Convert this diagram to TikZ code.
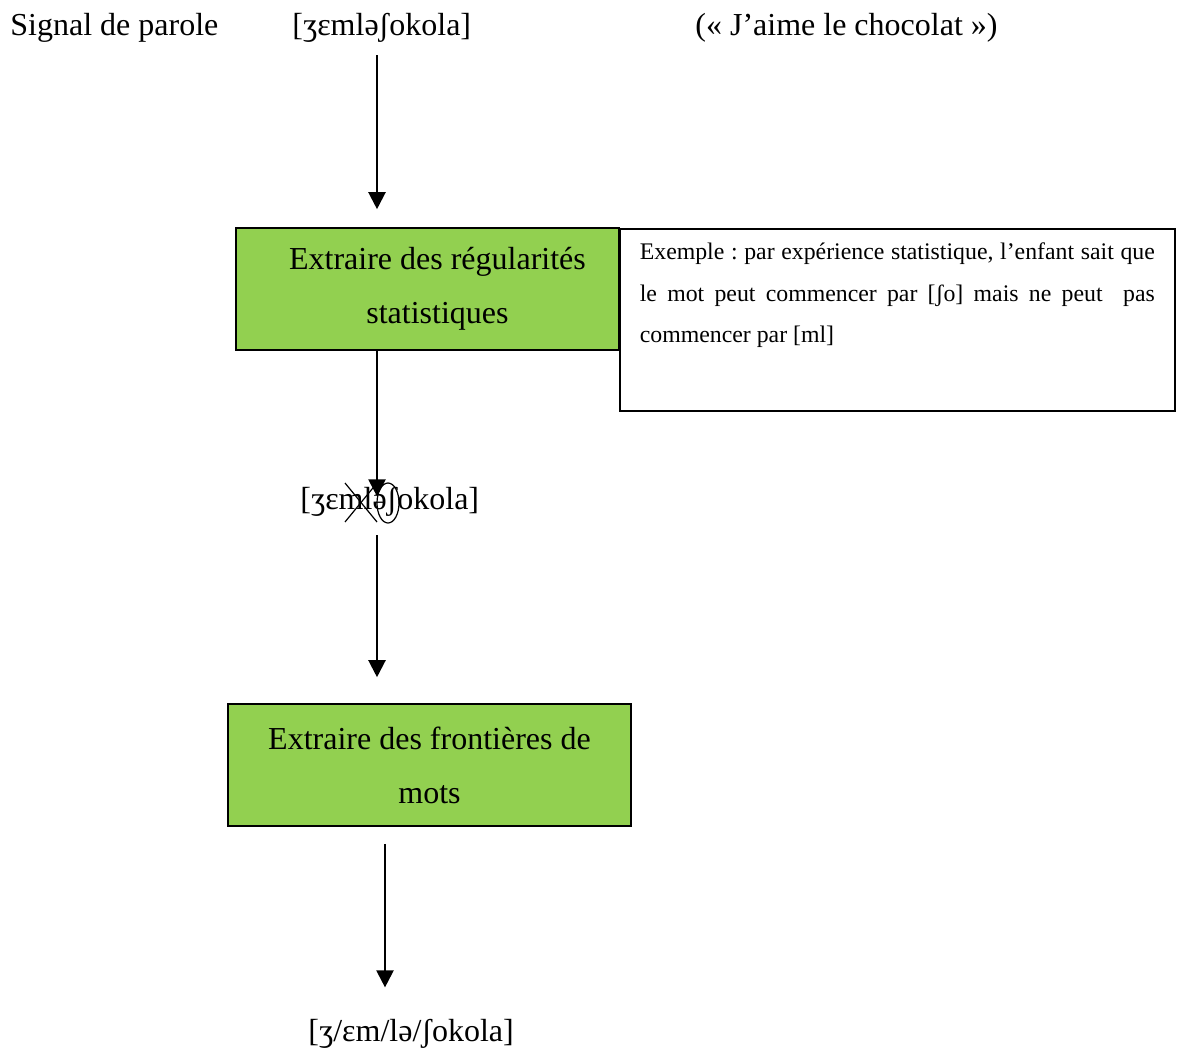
\documentclass[tikz,border=0pt]{standalone}
\usepackage{fontspec}
\setmainfont{Liberation Serif}
\usetikzlibrary{arrows.meta}
\definecolor{vertclair}{HTML}{92D050}
\frenchspacing

\begin{document}
\begin{tikzpicture}[x=0.5pt, y=-0.5pt, >={Triangle[width=8.5pt,length=8.5pt]},
  lbl/.style={inner sep=0pt, font=\fontsize{16}{19}\selectfont},
  etape/.style={draw, line width=0.8pt, fill=vertclair, minimum width=201.5pt, minimum height=61pt,
    align=center, font=\fontsize{16}{27}\selectfont},
  fleche/.style={->, line width=1.1pt}]
  \useasboundingbox (0,0) rectangle (1182,1048);

  % Ligne du haut
  \node[lbl, anchor=base west] (signal) at (10,36) {Signal de parole};
  \node[lbl, anchor=base west] (ipa1) at (292,36) {[ʒɛmləʃokola]};
  \node[lbl, anchor=base west] (gloss) at (695,36) {(« J’aime le chocolat »)};
  \coordinate (c1) at (377,0);
  \coordinate (c2) at (385,0);

  % Premiere etape + exemple
  \node[etape, minimum width=191.5pt] (reg) at (427.5,289)
    {\hspace*{10pt}Extraire des régularités\\\hspace*{10pt}statistiques};
  \node[draw, line width=0.8pt, anchor=north west, inner xsep=10pt, inner ysep=7pt, fill=white,
    font=\fontsize{11.9}{20.8}\selectfont] (ex) at (619,228)
    {\parbox[t][77pt][t]{257.5pt}{Exemple : par expérience statistique, l’enfant sait que\linebreak
     le mot peut commencer par [ʃo] mais ne peut \ pas\linebreak commencer par [ml]}};

  % Segmentation intermediaire
  \node[lbl, anchor=base west] (ipa2) at (300,509) {[ʒɛmləʃokola]};
  \draw[line width=0.6pt] (345,483) -- (377,522) (377,483) -- (345,522);
  \draw[line width=0.6pt] (388,503) ellipse [x radius=5.5pt, y radius=10pt];

  % Deuxieme etape
  \node[etape] (front) at (429.5,765) {Extraire des frontières de\\mots};
  \node[lbl, anchor=base west] (ipa3) at (308,1041) {[ʒ/ɛm/lə/ʃokola]};

  % Fleches
  \draw[fleche] ([yshift=-6pt]ipa1.south -| c1) -- ([yshift=9pt]reg.north -| c1);
  \draw[fleche] (reg.south -| c1) -- ([yshift=-5pt]ipa2.north -| c1);
  \draw[fleche] ([yshift=-9.5pt]ipa2.south -| c1) -- ([yshift=13pt]front.north -| c1);
  \draw[fleche] ([yshift=-8.5pt]front.south -| c2) -- ([yshift=15.5pt]ipa3.north -| c2);
\end{tikzpicture}
\end{document}
